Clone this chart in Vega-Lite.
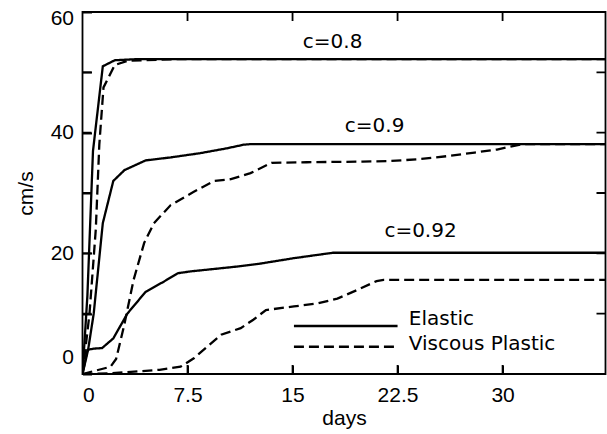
{
  "$schema": "https://vega.github.io/schema/vega-lite/v6.json",
  "width": 523,
  "height": 362,
  "autosize": {"type": "none"},
  "padding": {"left": 82.5, "top": 12, "right": 1.5, "bottom": 60},
  "background": "white",
  "config": {
    "view": {"stroke": "black", "strokeWidth": 1.8},
    "axis": {"grid": false, "domain": false, "labelColor": "black", "titleColor": "black", "labelFont": "Liberation Sans", "titleFont": "Liberation Sans", "titleFontWeight": "normal", "labelFontSize": 21, "titleFontSize": 21}
  },
  "datasets": {
    "curves": [
      {"c": "0.8", "rheology": "Elastic", "day": 0, "speed": 0},
      {"c": "0.8", "rheology": "Elastic", "day": 0.35, "speed": 13},
      {"c": "0.8", "rheology": "Elastic", "day": 0.75, "speed": 37},
      {"c": "0.8", "rheology": "Elastic", "day": 1.45, "speed": 51},
      {"c": "0.8", "rheology": "Elastic", "day": 2.3, "speed": 52},
      {"c": "0.8", "rheology": "Elastic", "day": 4, "speed": 52.2},
      {"c": "0.8", "rheology": "Elastic", "day": 37.35, "speed": 52.2},
      {"c": "0.8", "rheology": "Viscous Plastic", "day": 0, "speed": 0},
      {"c": "0.8", "rheology": "Viscous Plastic", "day": 0.5, "speed": 10},
      {"c": "0.8", "rheology": "Viscous Plastic", "day": 0.95, "speed": 24},
      {"c": "0.8", "rheology": "Viscous Plastic", "day": 1.2, "speed": 38},
      {"c": "0.8", "rheology": "Viscous Plastic", "day": 1.5, "speed": 47.5},
      {"c": "0.8", "rheology": "Viscous Plastic", "day": 2.3, "speed": 51.2},
      {"c": "0.8", "rheology": "Viscous Plastic", "day": 3.2, "speed": 51.9},
      {"c": "0.8", "rheology": "Viscous Plastic", "day": 7, "speed": 52.2},
      {"c": "0.8", "rheology": "Viscous Plastic", "day": 37.35, "speed": 52.2},
      {"c": "0.9", "rheology": "Elastic", "day": 0, "speed": 0},
      {"c": "0.9", "rheology": "Elastic", "day": 0.4, "speed": 4},
      {"c": "0.9", "rheology": "Elastic", "day": 0.8, "speed": 10},
      {"c": "0.9", "rheology": "Elastic", "day": 1.45, "speed": 25},
      {"c": "0.9", "rheology": "Elastic", "day": 2.2, "speed": 32},
      {"c": "0.9", "rheology": "Elastic", "day": 3, "speed": 33.8},
      {"c": "0.9", "rheology": "Elastic", "day": 4.5, "speed": 35.4},
      {"c": "0.9", "rheology": "Elastic", "day": 6.3, "speed": 35.9},
      {"c": "0.9", "rheology": "Elastic", "day": 8.4, "speed": 36.6},
      {"c": "0.9", "rheology": "Elastic", "day": 10.3, "speed": 37.4},
      {"c": "0.9", "rheology": "Elastic", "day": 11.5, "speed": 38},
      {"c": "0.9", "rheology": "Elastic", "day": 12, "speed": 38.1},
      {"c": "0.9", "rheology": "Elastic", "day": 37.35, "speed": 38.1},
      {"c": "0.9", "rheology": "Viscous Plastic", "day": 0, "speed": 0},
      {"c": "0.9", "rheology": "Viscous Plastic", "day": 2, "speed": 1.2},
      {"c": "0.9", "rheology": "Viscous Plastic", "day": 2.4, "speed": 2.5},
      {"c": "0.9", "rheology": "Viscous Plastic", "day": 2.95, "speed": 7.8},
      {"c": "0.9", "rheology": "Viscous Plastic", "day": 3.65, "speed": 15.6},
      {"c": "0.9", "rheology": "Viscous Plastic", "day": 4.4, "speed": 21.7},
      {"c": "0.9", "rheology": "Viscous Plastic", "day": 5.1, "speed": 25},
      {"c": "0.9", "rheology": "Viscous Plastic", "day": 6.3, "speed": 28},
      {"c": "0.9", "rheology": "Viscous Plastic", "day": 7.95, "speed": 30.2},
      {"c": "0.9", "rheology": "Viscous Plastic", "day": 9.4, "speed": 32},
      {"c": "0.9", "rheology": "Viscous Plastic", "day": 10.6, "speed": 32.3},
      {"c": "0.9", "rheology": "Viscous Plastic", "day": 12, "speed": 33.3},
      {"c": "0.9", "rheology": "Viscous Plastic", "day": 13.5, "speed": 35},
      {"c": "0.9", "rheology": "Viscous Plastic", "day": 16, "speed": 35.1},
      {"c": "0.9", "rheology": "Viscous Plastic", "day": 20, "speed": 35.2},
      {"c": "0.9", "rheology": "Viscous Plastic", "day": 22, "speed": 35.3},
      {"c": "0.9", "rheology": "Viscous Plastic", "day": 24, "speed": 35.6},
      {"c": "0.9", "rheology": "Viscous Plastic", "day": 26, "speed": 36.1},
      {"c": "0.9", "rheology": "Viscous Plastic", "day": 28, "speed": 36.7},
      {"c": "0.9", "rheology": "Viscous Plastic", "day": 29.6, "speed": 37.2},
      {"c": "0.9", "rheology": "Viscous Plastic", "day": 31, "speed": 37.9},
      {"c": "0.9", "rheology": "Viscous Plastic", "day": 31.5, "speed": 38.1},
      {"c": "0.9", "rheology": "Viscous Plastic", "day": 37.35, "speed": 38.1},
      {"c": "0.92", "rheology": "Elastic", "day": 0, "speed": 0},
      {"c": "0.92", "rheology": "Elastic", "day": 0.35, "speed": 4},
      {"c": "0.92", "rheology": "Elastic", "day": 0.8, "speed": 4.2},
      {"c": "0.92", "rheology": "Elastic", "day": 1.4, "speed": 4.3},
      {"c": "0.92", "rheology": "Elastic", "day": 2.2, "speed": 5.9},
      {"c": "0.92", "rheology": "Elastic", "day": 3.2, "speed": 10},
      {"c": "0.92", "rheology": "Elastic", "day": 4.5, "speed": 13.6},
      {"c": "0.92", "rheology": "Elastic", "day": 5.8, "speed": 15.3},
      {"c": "0.92", "rheology": "Elastic", "day": 6.8, "speed": 16.7},
      {"c": "0.92", "rheology": "Elastic", "day": 7.7, "speed": 17},
      {"c": "0.92", "rheology": "Elastic", "day": 11, "speed": 17.8},
      {"c": "0.92", "rheology": "Elastic", "day": 12.7, "speed": 18.3},
      {"c": "0.92", "rheology": "Elastic", "day": 15.1, "speed": 19.2},
      {"c": "0.92", "rheology": "Elastic", "day": 17.9, "speed": 20.1},
      {"c": "0.92", "rheology": "Elastic", "day": 37.35, "speed": 20.1},
      {"c": "0.92", "rheology": "Viscous Plastic", "day": 0, "speed": 0},
      {"c": "0.92", "rheology": "Viscous Plastic", "day": 2, "speed": 0.1},
      {"c": "0.92", "rheology": "Viscous Plastic", "day": 5.5, "speed": 0.7},
      {"c": "0.92", "rheology": "Viscous Plastic", "day": 7, "speed": 1.2},
      {"c": "0.92", "rheology": "Viscous Plastic", "day": 7.95, "speed": 2.6},
      {"c": "0.92", "rheology": "Viscous Plastic", "day": 8.9, "speed": 4.5},
      {"c": "0.92", "rheology": "Viscous Plastic", "day": 9.9, "speed": 6.5},
      {"c": "0.92", "rheology": "Viscous Plastic", "day": 11.3, "speed": 7.6},
      {"c": "0.92", "rheology": "Viscous Plastic", "day": 12.2, "speed": 9},
      {"c": "0.92", "rheology": "Viscous Plastic", "day": 13.1, "speed": 10.6},
      {"c": "0.92", "rheology": "Viscous Plastic", "day": 15.1, "speed": 11.2},
      {"c": "0.92", "rheology": "Viscous Plastic", "day": 16.8, "speed": 11.7},
      {"c": "0.92", "rheology": "Viscous Plastic", "day": 18.2, "speed": 12.5},
      {"c": "0.92", "rheology": "Viscous Plastic", "day": 19.6, "speed": 13.9},
      {"c": "0.92", "rheology": "Viscous Plastic", "day": 21, "speed": 15.4},
      {"c": "0.92", "rheology": "Viscous Plastic", "day": 21.5, "speed": 15.6},
      {"c": "0.92", "rheology": "Viscous Plastic", "day": 37.35, "speed": 15.6}
    ],
    "xTicks": [
      {"day": 7.5, "speed": 0}, {"day": 15, "speed": 0}, {"day": 22.5, "speed": 0}, {"day": 30, "speed": 0},
      {"day": 7.5, "speed": 60}, {"day": 15, "speed": 60}, {"day": 22.5, "speed": 60}, {"day": 30, "speed": 60}
    ],
    "yTicks": [
      {"day": 0, "speed": 10}, {"day": 0, "speed": 20}, {"day": 0, "speed": 30}, {"day": 0, "speed": 40}, {"day": 0, "speed": 50},
      {"day": 37.35, "speed": 10}, {"day": 37.35, "speed": 20}, {"day": 37.35, "speed": 30}, {"day": 37.35, "speed": 40}, {"day": 37.35, "speed": 50}
    ],
    "legendRows": [
      {"rheology": "Elastic", "start": 15.1, "end": 22.5, "speed": 7.96, "labelDay": 23.3, "labelSpeed": 8.1},
      {"rheology": "Viscous Plastic", "start": 15.1, "end": 22.5, "speed": 4.53, "labelDay": 23.3, "labelSpeed": 3.98}
    ],
    "annotations": [
      {"label": "c=0.8", "day": 17.86, "speed": 55.0},
      {"label": "c=0.9", "day": 20.86, "speed": 41.1},
      {"label": "c=0.92", "day": 24.14, "speed": 23.7}
    ]
  },
  "layer": [
    {
      "data": {"name": "curves"},
      "mark": {"type": "line", "color": "black", "strokeWidth": 2.3, "clip": true},
      "encoding": {
        "x": {"field": "day", "type": "quantitative", "scale": {"domain": [0, 37.35], "nice": false, "zero": false},
              "axis": {"orient": "bottom", "tickColor": "black", "tickSize": 9, "tickWidth": 2, "offset": -9, "values": [0, 7.5, 15, 22.5, 30], "labelExpr": "'' + datum.value", "labelPadding": 10, "title": "days", "titlePadding": 2}},
        "y": {"field": "speed", "type": "quantitative", "scale": {"domain": [0, 60], "nice": false, "zero": false},
              "axis": {"orient": "left", "tickColor": "black", "tickSize": 9, "tickWidth": 2, "offset": -9, "values": [0, 10, 20, 30, 40, 50, 60], "labelExpr": "datum.value % 20 == 0 ? datum.label : ''", "labelPadding": 9, "labelOffset": {"expr": "datum.value == 0 ? -17 : datum.value == 60 ? 6 : 0"}, "title": "cm/s", "titlePadding": 14}},
        "detail": {"field": "c"},
        "strokeDash": {"field": "rheology", "type": "nominal", "scale": {"domain": ["Elastic", "Viscous Plastic"], "range": [[1, 0], [10, 5]]}, "legend": null}
      }
    },
    {
      "data": {"name": "annotations"},
      "mark": {"type": "text", "fontSize": 20, "font": "DejaVu Sans", "color": "black", "align": "center", "baseline": "middle"},
      "encoding": {
        "x": {"field": "day", "type": "quantitative", "axis": null},
        "y": {"field": "speed", "type": "quantitative", "axis": null},
        "text": {"field": "label"}
      }
    },
    {
      "data": {"name": "xTicks"},
      "mark": {"type": "tick", "orient": "vertical", "color": "black", "size": 18, "thickness": 1.8, "opacity": 1, "clip": true},
      "encoding": {
        "x": {"field": "day", "type": "quantitative", "axis": null},
        "y": {"field": "speed", "type": "quantitative", "axis": null}
      }
    },
    {
      "data": {"name": "yTicks"},
      "mark": {"type": "tick", "orient": "horizontal", "color": "black", "size": 18, "thickness": 1.8, "opacity": 1, "clip": true},
      "encoding": {
        "x": {"field": "day", "type": "quantitative", "axis": null},
        "y": {"field": "speed", "type": "quantitative", "axis": null}
      }
    },
    {
      "data": {"name": "legendRows"},
      "mark": {"type": "rule", "color": "black", "strokeWidth": 2.5},
      "encoding": {
        "x": {"field": "start", "type": "quantitative", "axis": null},
        "x2": {"field": "end"},
        "y": {"field": "speed", "type": "quantitative", "axis": null},
        "strokeDash": {"field": "rheology", "type": "nominal", "legend": null}
      }
    },
    {
      "data": {"name": "legendRows"},
      "mark": {"type": "text", "fontSize": 20, "font": "DejaVu Sans", "color": "black", "align": "left", "baseline": "alphabetic"},
      "encoding": {
        "x": {"field": "labelDay", "type": "quantitative", "axis": null},
        "y": {"field": "labelSpeed", "type": "quantitative", "axis": null},
        "text": {"field": "rheology"}
      }
    }
  ],
  "resolve": {"axis": {"x": "independent", "y": "independent"}}
}
